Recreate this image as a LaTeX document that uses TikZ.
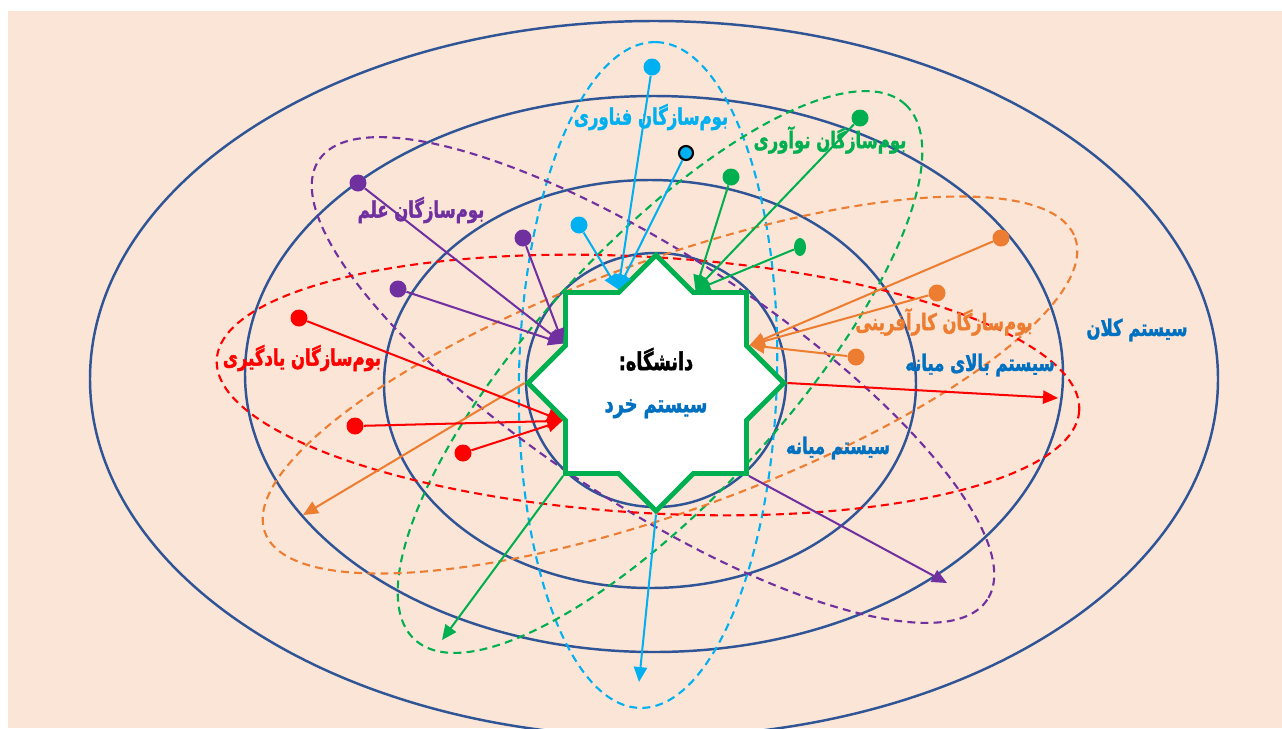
\documentclass[tikz,border=0pt]{standalone}
\usepackage{fontspec}
\usepackage{tikz}
\usetikzlibrary{shapes.geometric,arrows.meta}
\newfontfamily\farsi[Script=Arabic, FakeStretch=0.72, BoldFeatures={FakeBold=1.5}]{DejaVu Sans}
\TeXXeTstate=1
\newcommand{\rtl}[1]{\beginR #1\endR}
\definecolor{bgpeach}{HTML}{FBE5D6}
\definecolor{ringblue}{HTML}{2F5597}
\definecolor{techc}{HTML}{00B0F0}
\definecolor{innovc}{HTML}{00B050}
\definecolor{scic}{HTML}{7030A0}
\definecolor{entrc}{HTML}{ED7D31}
\definecolor{learnc}{HTML}{FF0000}
\definecolor{sysc}{HTML}{0070C0}

\begin{document}
\begin{tikzpicture}[x=0.02cm,y=-0.02cm,
  ring/.style={draw=ringblue, line width=1.4pt},
  orbit/.style={dash pattern=on 4.5pt off 3pt, line width=1.2pt},
  dot/.style={circle, fill=#1, inner sep=0pt, minimum size=0.34cm},
  arr/.style={-{Triangle[length=8.5pt,width=7.5pt]}, line width=1.15pt},
  lbl/.style={font=\farsi\bfseries\fontsize{13}{15}\selectfont, text=#1, inner sep=1pt}]
\useasboundingbox (0,0) rectangle (1282,728);
\fill[bgpeach] (8,11) rectangle (1282,728);
\begin{scope}
\clip (8,11) rectangle (1282,728);
% system rings
\draw[ring] (654,379) ellipse [x radius=564, y radius=358];
\draw[ring] (654,374) ellipse [x radius=409, y radius=278];
\draw[ring] (650,384) ellipse [x radius=266, y radius=204];
\draw[ring] (656,380) ellipse [x radius=130, y radius=127];
% ecosystems
\draw[orbit, techc, rotate around={88.6:(648,375)}] (648,375) ellipse [x radius=333, y radius=129];
\draw[orbit, innovc, rotate around={47.5:(660,372)}] (660,372) ellipse [x radius=363, y radius=126];
\draw[orbit, scic, rotate around={-33.3:(653,380)}] (653,380) ellipse [x radius=400, y radius=124];
\draw[orbit, entrc, rotate around={20:(670,385)}] (670,385) ellipse [x radius=431, y radius=125];
\draw[orbit, learnc, rotate around={-3.4:(648,385)}] (648,385) ellipse [x radius=432, y radius=128];
\end{scope}

\node[star, star points=8, star point ratio=1.307, minimum size=5.12cm, draw=innovc, line width=2.8pt,
  fill=white, inner sep=0pt, align=center, font=\farsi\bfseries\fontsize{14}{16}\selectfont] (uni) at (656,383)
  {\rtl{دانشگاه:}\\[8pt]{\color{sysc}\rtl{سیستم خرد}}};

% dots
\node[dot=techc] (tech1) at (652,67) {};
\node[dot=techc, draw=black, line width=1.2pt, minimum size=0.28cm] (tech2) at (686,153) {};
\node[dot=techc] (tech3) at (579,225) {};
\node[dot=innovc] (innov1) at (860,118) {};
\node[dot=innovc] (innov2) at (731,177) {};
\node[ellipse, fill=innovc, inner sep=0pt, minimum width=0.24cm, minimum height=0.36cm] (innov3) at (800,247) {};
\node[dot=scic] (sci1) at (358,183) {};
\node[dot=scic] (sci2) at (523,238) {};
\node[dot=scic] (sci3) at (398,289) {};
\node[dot=entrc] (entr1) at (1001,238) {};
\node[dot=entrc] (entr2) at (937,293) {};
\node[dot=entrc] (entr3) at (856,357) {};
\node[dot=learnc] (learn1) at (299,318) {};
\node[dot=learnc] (learn2) at (355,426) {};
\node[dot=learnc] (learn3) at (463,453) {};

\coordinate (techend) at (639,682);
\coordinate (innovend) at (442,640);
\coordinate (sciend) at (947,583);
\coordinate (entrend) at (303,515);
\coordinate (learnend) at (1058,398);

% arrows
\draw[arr, techc] (tech1) -- (uni.112.5);
\draw[arr, techc] (tech2) -- (uni.112.5);
\draw[arr, techc] (tech3) -- (uni.112.5);
\draw[arr, techc] (uni.270) -- (techend);
\draw[arr, innovc] (innov1) -- (uni.67.5);
\draw[arr, innovc] (innov2) -- (uni.67.5);
\draw[arr, innovc] (innov3) -- (uni.67.5);
\draw[arr, innovc] (uni.225) -- (innovend);
\draw[arr, scic] (sci1) -- (uni.157.5);
\draw[arr, scic] (sci2) -- (uni.157.5);
\draw[arr, scic] (sci3) -- (uni.157.5);
\draw[arr, scic] (uni.315) -- (sciend);
\draw[arr, entrc] (entr1) -- (uni.22.5);
\draw[arr, entrc] (entr2) -- (uni.22.5);
\draw[arr, entrc] (entr3) -- (uni.22.5);
\draw[arr, entrc] (uni.180) -- (entrend);
\draw[arr, learnc] (learn1) -- (uni.202.5);
\draw[arr, learnc] (learn2) -- (uni.202.5);
\draw[arr, learnc] (learn3) -- (uni.202.5);
\draw[arr, learnc] (uni.0) -- (learnend);

% labels
\node[lbl=techc] (techlbl) at (651,117) {\rtl{بوم^^^^200cسازگان فناوری}};
\node[lbl=innovc] (innovlbl) at (830,140) {\rtl{بوم^^^^200cسازگان نوآوری}};
\node[lbl=scic] (scilbl) at (421,210) {\rtl{بوم^^^^200cسازگان علم}};
\node[lbl=entrc] (entrlbl) at (944,322) {\rtl{بوم^^^^200cسازگان کارآفرینی}};
\node[lbl=learnc] (learnlbl) at (302,358) {\rtl{بوم^^^^200cسازگان یادگیری}};
\node[lbl=sysc] (macro) at (1137,330) {\rtl{سیستم کلان}};
\node[lbl=sysc] (exo) at (980,365) {\rtl{سیستم بالای میانه}};
\node[lbl=sysc] (meso) at (838,448) {\rtl{سیستم میانه}};
\end{tikzpicture}
\end{document}
